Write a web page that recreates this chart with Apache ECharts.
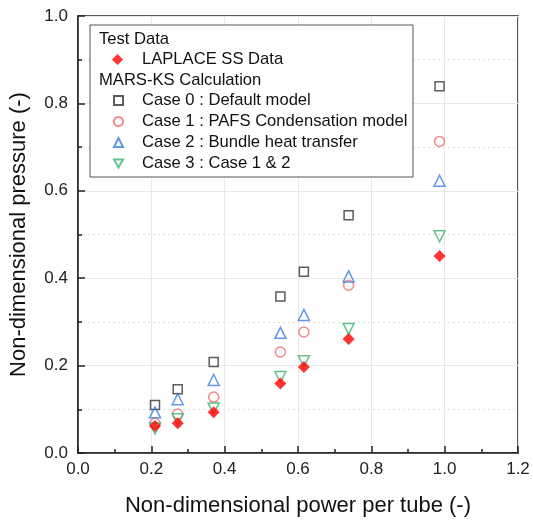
<!DOCTYPE html>
<html>
<head>
<meta charset="utf-8">
<script src="https://cdn.jsdelivr.net/npm/echarts@6/dist/echarts.min.js"></script>
<style>
  html, body { margin: 0; padding: 0; background: #fff; }
  #chart { width: 533px; height: 522px; }
</style>
</head>
<body>
<div id="chart"></div>
<script>
// power per tube (x) for each test point
const power = [0.21, 0.272, 0.37, 0.552, 0.616, 0.738, 0.986];

const laplace = [0.062, 0.068, 0.093, 0.159, 0.197, 0.261, 0.451];
const case0 = [0.110, 0.146, 0.208, 0.358, 0.415, 0.544, 0.839];
const case1 = [0.068, 0.089, 0.128, 0.231, 0.277, 0.384, 0.713];
const case2 = [0.093, 0.123, 0.167, 0.275, 0.316, 0.404, 0.623];
const case3 = [0.056, 0.077, 0.102, 0.174, 0.210, 0.284, 0.496];

const seriesNames = [
  'Case 0 : Default model',
  'Case 1 : PAFS Condensation model',
  'Case 2 : Bundle heat transfer',
  'Case 3 : Case 1 & 2'
];
const testName = 'LAPLACE SS Data';

const pairs = (ys) => power.map((x, i) => [x, ys[i]]);

const font = 'Liberation Sans, Arial, sans-serif';
const chart = echarts.init(document.getElementById('chart'));

const hollow = (name, ys, symbol, color, size, rotate) => ({
  name: name,
  type: 'scatter',
  data: pairs(ys),
  symbol: symbol,
  symbolSize: size,
  symbolRotate: rotate || 0,
  itemStyle: { color: 'rgba(255,255,255,0)', borderColor: color, borderWidth: 1.5 },
  emphasis: { disabled: true }
});

const legendText = { fontSize: 16.6, color: '#111', fontFamily: font, lineHeight: 21, padding: [0, 0, 0, 14] };

chart.setOption({
  animation: false,
  backgroundColor: '#fff',
  textStyle: { fontFamily: font },
  grid: {
    left: 78, right: 15, top: 16, bottom: 66,
    show: true, borderColor: '#222', borderWidth: 1.5
  },
  xAxis: {
    type: 'value',
    min: 0, max: 1.2, interval: 0.2,
    name: 'Non-dimensional power per tube (-)',
    nameLocation: 'middle',
    nameGap: 42,
    nameTextStyle: { fontSize: 22, color: '#111', fontFamily: font },
    axisLine: { lineStyle: { color: '#222', width: 1.5 } },
    axisTick: { inside: true, length: 7, lineStyle: { color: '#222', width: 1.5 } },
    minorTick: { show: true, splitNumber: 2, length: 4, lineStyle: { color: '#222', width: 1.5 } },
    axisLabel: { fontSize: 17, color: '#222', margin: 8, formatter: (v) => v.toFixed(1) },
    splitLine: { show: true, lineStyle: { color: '#e8e8e8', width: 1 } },
    minorSplitLine: { show: false }
  },
  yAxis: {
    type: 'value',
    min: 0, max: 1.0, interval: 0.2,
    name: 'Non-dimensional pressure (-)',
    nameLocation: 'middle',
    nameGap: 48,
    nameTextStyle: { fontSize: 22, color: '#111', fontFamily: font },
    axisLine: { lineStyle: { color: '#222', width: 1.5 } },
    axisTick: { inside: true, length: 7, lineStyle: { color: '#222', width: 1.5 } },
    minorTick: { show: true, splitNumber: 2, length: 4, lineStyle: { color: '#222', width: 1.5 } },
    axisLabel: { fontSize: 17, color: '#222', margin: 10, formatter: (v) => v.toFixed(1) },
    splitLine: { show: true, lineStyle: { color: '#e8e8e8', width: 1 } },
    minorSplitLine: { show: true, lineStyle: { color: '#dddddd', width: 1, type: [2, 3] } }
  },
  legend: [
    {
      data: [testName],
      orient: 'vertical',
      left: 112, top: 49,
      padding: 0,
      z: 10,
      itemWidth: 11, itemHeight: 11,
      selectedMode: false,
      textStyle: legendText
    },
    {
      data: [
        seriesNames[0],
        seriesNames[1],
        seriesNames[2],
        { name: seriesNames[3], icon: 'path://M0,0L10,0L5,9Z' }
      ],
      orient: 'vertical',
      left: 113, top: 90,
      padding: 0,
      z: 10,
      itemGap: 0,
      itemWidth: 9, itemHeight: 9,
      selectedMode: false,
      textStyle: legendText
    }
  ],
  graphic: [
    {
      type: 'rect',
      shape: { x: 90, y: 25, width: 323, height: 152 },
      style: { fill: '#fff', stroke: '#555', lineWidth: 1 },
      z: 5
    },
    {
      type: 'text', x: 99, y: 39, z: 6,
      style: { text: 'Test Data', fill: '#111', font: '16.6px ' + font, verticalAlign: 'middle' }
    },
    {
      type: 'text', x: 99, y: 80, z: 6,
      style: { text: 'MARS-KS Calculation', fill: '#111', font: '16.6px ' + font, verticalAlign: 'middle' }
    }
  ],
  series: [
    hollow(seriesNames[0], case0, 'rect', '#333333', 9),
    hollow(seriesNames[1], case1, 'circle', '#f26b6b', 10),
    hollow(seriesNames[2], case2, 'triangle', '#3a7de0', 11),
    hollow(seriesNames[3], case3, 'triangle', '#3cb371', 11, 180),
    {
      name: testName,
      type: 'scatter',
      data: pairs(laplace),
      symbol: 'diamond',
      symbolSize: 12,
      itemStyle: { color: '#ff0000' },
      emphasis: { disabled: true }
    }
  ]
});
</script>
</body>
</html>
